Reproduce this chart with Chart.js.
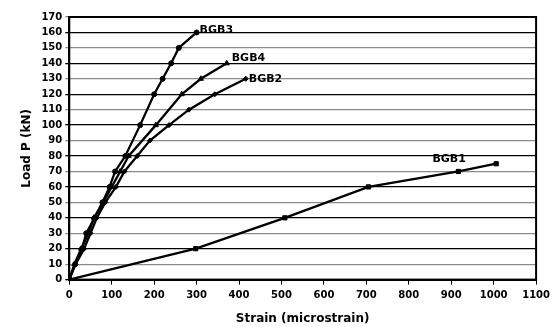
<!DOCTYPE html>
<html>
<head>
<meta charset="utf-8">
<script src="https://cdn.jsdelivr.net/npm/chart.js@4"></script>
<style>
  body { margin: 0; background: #fff; }
</style>
</head>
<body>
<canvas id="chart" width="555" height="327"></canvas>
<script>
// strain (microstrain) vs load (kN) for each beam
var bgb1Strain = [0, 298, 508, 705, 917, 1006]
var bgb1Load = [0, 20, 40, 60, 70, 75]

var bgb2Strain = [0, 15, 35, 50, 65, 85, 110, 130, 160, 190, 235, 282, 343, 416]
var bgb2Load = [0, 10, 20, 30, 40, 50, 60, 70, 80, 90, 100, 110, 120, 130]

var bgb3Strain = [0, 14, 30, 40, 60, 78, 95, 108, 132, 167, 200, 220, 240, 258, 300]
var bgb3Load = [0, 10, 20, 30, 40, 50, 60, 70, 80, 100, 120, 130, 140, 150, 160]

var bgb4Strain = [0, 12, 28, 45, 58, 80, 100, 120, 140, 204, 265, 310, 371]
var bgb4Load = [0, 10, 20, 30, 40, 50, 60, 70, 80, 100, 120, 130, 140]

var xTicks = [0, 100, 200, 300, 400, 500, 600, 700, 800, 900, 1000, 1100]
var yTicks = [0, 10, 20, 30, 40, 50, 60, 70, 80, 90, 100, 110, 120, 130, 140, 150, 160, 170]

var FONT = '"DejaVu Sans", Arial, sans-serif'

function pts(xs, ys) {
  var out = []
  for (var i = 0; i < xs.length; i++) out.push({x: xs[i], y: ys[i]})
  return out
}

function series(name, xs, ys, shape, r) {
  return {
    label: name,
    data: pts(xs, ys),
    borderColor: '#000',
    backgroundColor: '#000',
    borderWidth: 2.3,
    pointStyle: shape,
    pointRadius: r,
    pointBorderWidth: 1,
    tension: 0
  }
}

// text next to each curve, offset from the named point
var curveLabels = [
  {ds: 0, idx: 4, text: 'BGB1', dx: -26, dy: -12},
  {ds: 1, idx: 13, text: 'BGB2', dx: 3, dy: 0},
  {ds: 2, idx: 14, text: 'BGB3', dx: 3, dy: -2},
  {ds: 3, idx: 12, text: 'BGB4', dx: 5, dy: -5}
]

var labelPlugin = {
  id: 'curveLabels',
  afterDatasetsDraw: function(chart) {
    var ctx = chart.ctx
    var a = chart.chartArea
    ctx.save()
    ctx.strokeStyle = '#000'
    ctx.lineWidth = 2
    ctx.strokeRect(a.left, a.top, a.right - a.left, a.bottom - a.top)
    ctx.font = 'bold 11px ' + FONT
    ctx.fillStyle = '#000'
    ctx.textBaseline = 'middle'
    curveLabels.forEach(function(l) {
      var p = chart.data.datasets[l.ds].data[l.idx]
      var px = chart.scales.x.getPixelForValue(p.x)
      var py = chart.scales.y.getPixelForValue(p.y)
      ctx.fillText(l.text, px + l.dx, py + l.dy)
    })
    ctx.restore()
  }
}

new Chart(document.getElementById('chart').getContext('2d'), {
  type: 'scatter',
  data: {
    datasets: [
      series('BGB1', bgb1Strain, bgb1Load, 'rect', 3),
      series('BGB2', bgb2Strain, bgb2Load, 'rectRot', 2.5),
      series('BGB3', bgb3Strain, bgb3Load, 'circle', 2.5),
      series('BGB4', bgb4Strain, bgb4Load, 'triangle', 3)
    ]
  },
  options: {
    responsive: false,
    animation: false,
    showLine: true,
    layout: {padding: {top: 17, right: 7, left: 16, bottom: 0}},
    plugins: {legend: {display: false}, tooltip: {enabled: false}},
    scales: {
      x: {
        type: 'linear', min: 0, max: 1100,
        afterBuildTicks: function(s) { s.ticks = xTicks.map(function(v) { return {value: v} }) },
        grid: {drawOnChartArea: false, drawTicks: true, tickLength: 5, color: '#000'},
        border: {color: '#000', width: 2},
        ticks: {color: '#000', font: {family: FONT, size: 10, weight: 'bold'}, padding: 5, maxRotation: 0,
          autoSkip: false, callback: function(v) { return String(v) }},
        title: {display: true, text: 'Strain (microstrain)', color: '#000',
          font: {family: FONT, size: 12, weight: 'bold'}, padding: {top: 5, bottom: 1}}
      },
      y: {
        type: 'linear', min: 0, max: 170,
        afterBuildTicks: function(s) { s.ticks = yTicks.map(function(v) { return {value: v} }) },
        grid: {
          color: function(c) { return (c.tick && c.tick.value % 20 === 0) ? '#000' : '#8c8c8c' },
          lineWidth: 1.3, drawTicks: true, tickLength: 4
        },
        border: {color: '#000', width: 2},
        ticks: {color: '#000', font: {family: FONT, size: 10, weight: 'bold'}, padding: 3,
          autoSkip: false, callback: function(v) { return String(v) }},
        title: {display: true, text: 'Load P (kN)', color: '#000',
          font: {family: FONT, size: 12, weight: 'bold'}, padding: {bottom: 4}}
      }
    }
  },
  plugins: [labelPlugin]
})
</script>
</body>
</html>
